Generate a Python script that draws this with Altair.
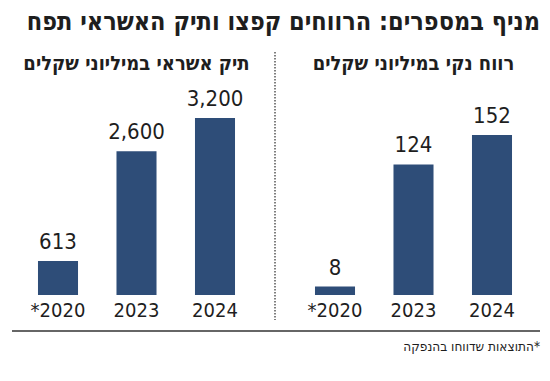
import altair as alt
import pandas as pd

years = ["*2020", "2023", "2024"]
profit = [8, 124, 152]
profit_labels = ["8", "124", "152"]
credit = [613, 2600, 3200]
credit_labels = ["613", "2,600", "3,200"]

main_title = "מניף במספרים: הרווחים קפצו ותיק האשראי תפח"
left_header = "תיק אשראי במיליוני שקלים"
right_header = "רווח נקי במיליוני שקלים"
footnote = "התוצאות שדווחו בהנפקה*"

FONT = "DejaVu Sans Condensed, sans-serif"
BAR = "#2e4d78"
INK = "#1e1e1e"
W, H = 257, 287   # plot area: page y 8 .. 295 (bar baseline)


def panel(values, labels, header, ymax, extras):
    df = pd.DataFrame({"year": years, "value": values, "label": labels})
    base = alt.Chart(df).encode(
        x=alt.X(
            "year:N",
            sort=years,
            scale=alt.Scale(paddingInner=0.49, paddingOuter=0.382),
            axis=alt.Axis(title=None, labelAngle=0, ticks=False, domain=False,
                          labelFontSize=20, labelFont=FONT, labelColor=INK,
                          labelPadding=5),
        ),
        y=alt.Y("value:Q", scale=alt.Scale(domain=[0, ymax]), axis=None),
    )
    bars = base.mark_bar(color=BAR)
    text = base.mark_text(baseline="bottom", dy=-7, fontSize=22, font=FONT,
                          color=INK).encode(text="label:N")
    head = alt.Chart(one).mark_text(align="center", baseline="middle",
                                    fontSize=20, font=FONT, fontWeight="bold",
                                    color=INK).encode(
        x=alt.value(W / 2), y=alt.value(56), text=alt.value(header))
    return alt.layer(bars, text, head, *extras).properties(width=W, height=H)


one = pd.DataFrame({"k": [0]})
divider = alt.Chart(one).mark_rule(color="#555", strokeDash=[1.5, 1.5],
                                   strokeWidth=1.5).encode(
    x=alt.value(267), y=alt.value(44), y2=alt.value(312))
hline = alt.Chart(one).mark_rule(color="#333", strokeWidth=1.5).encode(
    x=alt.value(4), x2=alt.value(532), y=alt.value(323))
note = alt.Chart(one).mark_text(align="right", baseline="middle", fontSize=13.5,
                                font=FONT, color=INK).encode(
    x=alt.value(255), y=alt.value(339), text=alt.value(footnote))
title = alt.Chart(one).mark_text(align="right", baseline="middle", fontSize=25,
                                 font=FONT, fontWeight="bold", color=INK).encode(
    x=alt.value(255), y=alt.value(14), text=alt.value(main_title))

left = panel(credit, credit_labels, left_header, 3200 / 177 * H, [divider, hline])
right = panel(profit, profit_labels, right_header, 152 / 160 * H, [note, title])

chart = alt.hconcat(left, right, spacing=20, bounds="flush").properties(
    padding=0,
).configure_view(stroke=None)

chart.save("out.html", embed_options={"renderer": "svg", "actions": False})
